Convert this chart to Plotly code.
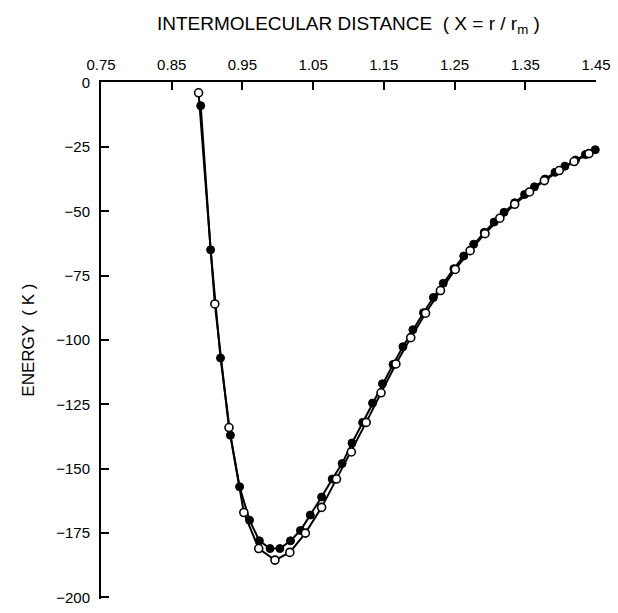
import plotly.graph_objects as go

# Filled-circle series
x_filled = [0.891, 0.905, 0.919, 0.933, 0.946, 0.960, 0.974, 0.989, 1.003, 1.018,
            1.032, 1.046, 1.062, 1.077, 1.091, 1.105, 1.120, 1.134, 1.148, 1.163,
            1.177, 1.191, 1.206, 1.220, 1.234, 1.249, 1.263, 1.277, 1.292, 1.306,
            1.320, 1.335, 1.349, 1.363, 1.378, 1.392, 1.406, 1.421, 1.435, 1.449]
e_filled = [-9, -65, -107, -137, -157, -170, -178, -181, -181, -178,
            -174, -168, -161, -154, -148, -140, -132, -124.5, -117, -109.5,
            -102.6, -96, -89.4, -83.5, -78, -72.3, -67.4, -62.8, -58.2, -54.2,
            -50.4, -46.7, -43.5, -40.5, -37.5, -34.9, -32.5, -30.1, -28, -26.1]

# Open-circle series
x_open = [0.888, 0.911, 0.931, 0.952, 0.973, 0.996, 1.017, 1.039, 1.062, 1.083,
          1.104, 1.125, 1.146, 1.167, 1.188, 1.209, 1.230, 1.251, 1.272, 1.293,
          1.314, 1.335, 1.356, 1.377, 1.398, 1.419, 1.440, 1.461]
e_open = [-4, -86, -134, -167, -181, -185.5, -182.5, -175, -165, -154,
          -143.5, -132, -120.5, -109.3, -99.1, -89.6, -80.8, -72.6, -65.3, -58.7,
          -52.7, -47.3, -42.5, -38.1, -34.2, -30.7, -27.6, -25.5]

x_ticks = [0.75, 0.85, 0.95, 1.05, 1.15, 1.25, 1.35, 1.45]
x_ticktext = ["0.75", "0.85", "0.95", "1.05", "1.15", "1.25", "1.35", "1.45"]
y_ticks = [0, -25, -50, -75, -100, -125, -150, -175, -200]
y_ticktext = ["0", "\u221225", "\u221250", "\u221275", "\u2212100", "\u2212125",
              "\u2212150", "\u2212175", "\u2212200"]

FONT = "Liberation Sans"

fig = go.Figure()
fig.add_trace(go.Scatter(
    x=x_filled, y=e_filled, mode="lines+markers", cliponaxis=False,
    line=dict(color="black", width=2),
    marker=dict(symbol="circle", size=8, color="black", line=dict(color="black", width=1)),
    showlegend=False))
fig.add_trace(go.Scatter(
    x=x_open, y=e_open, mode="lines+markers", cliponaxis=False,
    line=dict(color="black", width=2),
    marker=dict(symbol="circle", size=8, color="white", line=dict(color="black", width=1.6)),
    showlegend=False))

fig.update_layout(
    width=618, height=613,
    margin=dict(l=101, r=21, t=82, b=7),
    paper_bgcolor="white", plot_bgcolor="white",
    font=dict(family=FONT, size=14, color="black"),
    xaxis=dict(side="top", range=[0.75, 1.45], tickvals=x_ticks, ticktext=x_ticktext,
               ticks="inside", ticklen=8, tickwidth=1.5, tickcolor="black",
               showline=True, linecolor="black", linewidth=2, mirror=False,
               showgrid=False, zeroline=False, ticklabelstandoff=4,
               tickfont=dict(family=FONT, size=15, color="black")),
    yaxis=dict(range=[-200.6, 0.2], tickvals=y_ticks, ticktext=y_ticktext,
               ticks="inside", ticklen=8, tickwidth=1.5, tickcolor="black",
               showline=True, linecolor="black", linewidth=2, mirror=False,
               showgrid=False, zeroline=False, ticklabelstandoff=6,
               tickfont=dict(family=FONT, size=15, color="black")),
    annotations=[
        dict(text="INTERMOLECULAR DISTANCE  ( X = r / r<sub><span style='color:black'>m</span></sub> )",
             xref="paper", yref="paper",
             x=0.5, y=1 + (82 - 24) / 523, xanchor="center", yanchor="middle",
             showarrow=False, font=dict(family=FONT, size=19, color="black")),
        dict(text="ENERGY  ( K )", xref="paper", yref="paper",
             x=(28 - 101) / 496, y=0.5, xanchor="center", yanchor="middle",
             textangle=-90, showarrow=False, font=dict(family=FONT, size=17, color="black")),
    ],
)

fig.write_html("out.html")
